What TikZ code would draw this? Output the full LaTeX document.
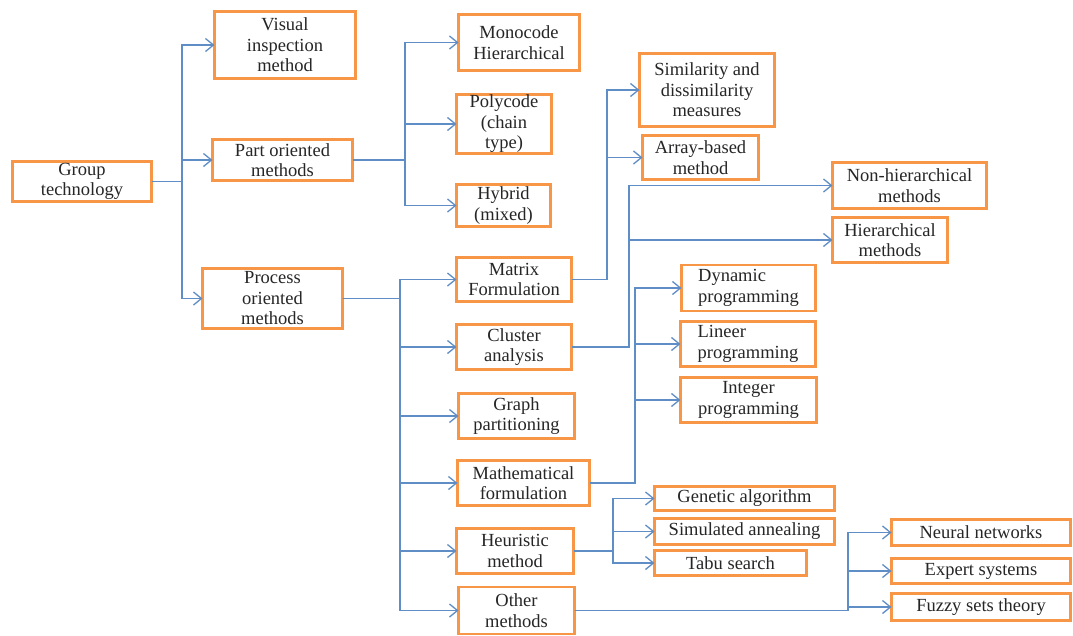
\documentclass[tikz,border=0pt]{standalone}
\usepackage{fontspec}
\setmainfont{Liberation Serif}
\usetikzlibrary{arrows.meta}
\definecolor{boxorange}{HTML}{F79646}
\definecolor{linkblue}{HTML}{5F8DC6}
\definecolor{txt}{HTML}{262626}
\begin{document}
\begin{tikzpicture}[x=1pt,y=-1pt,
  box/.style={draw=boxorange,line width=2.8pt,fill=white,inner sep=0pt,outer sep=0pt,
    align=center,text=txt,font=\fontsize{18.5}{20.5}\selectfont},
  link/.style={draw=linkblue,line width=1.5pt},
  arr/.style={link,-{Straight Barb[length=8pt,width=13pt,line width=1.3pt]}}]
\useasboundingbox (0,0) rectangle (1073,635);
\fill[white] (0,0) rectangle (1073,635);
% nodes
\node[box,minimum width=139pt,minimum height=40pt] (gt) at (82,181.5) {Group\\technology};
\node[box,minimum width=141pt,minimum height=67pt] (vis) at (285,45) {Visual\\inspection\\method};
\node[box,minimum width=140pt,minimum height=41pt] (part) at (282.5,160) {Part oriented\\methods};
\node[box,minimum width=140pt,minimum height=60pt] (proc) at (272.5,298.5) {Process\\oriented\\methods};
\node[box,minimum width=121pt,minimum height=56pt] (mono) at (519,42.5) {Monocode\\Hierarchical};
\node[box,minimum width=95pt,minimum height=59pt] (poly) at (504,124) {Polycode\\(chain\\type)};
\node[box,minimum width=94pt,minimum height=42pt] (hyb) at (503.5,205.5) {Hybrid\\(mixed)};
\node[box,minimum width=135pt,minimum height=73pt] (sim) at (707,90) {Similarity and\\dissimilarity\\measures};
\node[box,minimum width=116pt,minimum height=44pt] (arrb) at (700.5,157.5) {Array-based\\method};
\node[box,minimum width=154pt,minimum height=46pt] (nonh) at (909.5,185.5) {Non-hierarchical\\methods};
\node[box,minimum width=115pt,minimum height=45pt] (hier) at (890,240) {Hierarchical\\methods};
\node[box,minimum width=134pt,minimum height=46pt,align=left] (dyn) at (748.5,288) {Dynamic\\programming};
\node[box,minimum width=135pt,minimum height=45pt,align=left] (lin) at (748,344) {Lineer\\programming};
\node[box,minimum width=136pt,minimum height=45pt] (int) at (748.5,400) {Integer\\programming};
\node[box,minimum width=115pt,minimum height=44pt] (mat) at (514,279.5) {Matrix\\Formulation};
\node[box,minimum width=115pt,minimum height=45pt] (clu) at (514,347) {Cluster\\analysis};
\node[box,minimum width=116pt,minimum height=45pt] (gra) at (516.5,416) {Graph\\partitioning};
\node[box,minimum width=132pt,minimum height=45pt] (mth) at (523.5,483) {Mathematical\\formulation};
\node[box,minimum width=117pt,minimum height=45pt] (heu) at (515,551) {Heuristic\\method};
\node[box,minimum width=116pt,minimum height=47pt] (oth) at (516.5,610.5) {Other\\methods};
\node[box,minimum width=180pt,minimum height=24pt] (gen) at (744.5,498.5) {Genetic algorithm};
\node[box,minimum width=180pt,minimum height=26pt] (sa) at (744.5,531.5) {Simulated annealing};
\node[box,minimum width=152pt,minimum height=25pt] (tabu) at (730.5,563) {Tabu search};
\node[box,minimum width=179pt,minimum height=26pt] (neu) at (981,532.5) {Neural networks};
\node[box,minimum width=179pt,minimum height=25pt] (exp) at (981,571) {Expert systems};
\node[box,minimum width=179pt,minimum height=27pt] (fuz) at (981,607) {Fuzzy sets theory};
% trunk coordinates
\coordinate (t1) at (182,0);
\coordinate (t2) at (405,0);
\coordinate (t3) at (400,0);
\coordinate (t4) at (607,0);
\coordinate (t5) at (629,0);
\coordinate (t6) at (635,0);
\coordinate (t7) at (613,0);
\coordinate (t8) at (848,0);
% connectors
\draw[arr] (gt.east) -- (gt.east -| t1) |- (vis.west);
\draw[arr] (gt.east) -- (gt.east -| t1) |- (part.west);
\draw[arr] (gt.east) -- (gt.east -| t1) |- (proc.west);
\draw[arr] (part.east) -- (part.east -| t2) |- (mono.west);
\draw[arr] (part.east) -- (part.east -| t2) |- (poly.west);
\draw[arr] (part.east) -- (part.east -| t2) |- (hyb.west);
\foreach \n in {mat,clu,gra,mth,heu,oth}
  \draw[arr] (proc.east) -- (proc.east -| t3) |- (\n.west);
\draw[arr] (mat.east) -- (mat.east -| t4) |- (sim.west);
\draw[arr] (mat.east) -- (mat.east -| t4) |- (arrb.west);
\draw[arr] (clu.east) -- (clu.east -| t5) |- (nonh.west);
\draw[arr] (clu.east) -- (clu.east -| t5) |- (hier.west);
\foreach \n in {dyn,lin,int}
  \draw[arr] (mth.east) -- (mth.east -| t6) |- (\n.west);
\foreach \n in {gen,sa,tabu}
  \draw[arr] (heu.east) -- (heu.east -| t7) |- (\n.west);
\foreach \n in {neu,exp,fuz}
  \draw[arr] (oth.east) -- (oth.east -| t8) |- (\n.west);
\end{tikzpicture}
\end{document}
